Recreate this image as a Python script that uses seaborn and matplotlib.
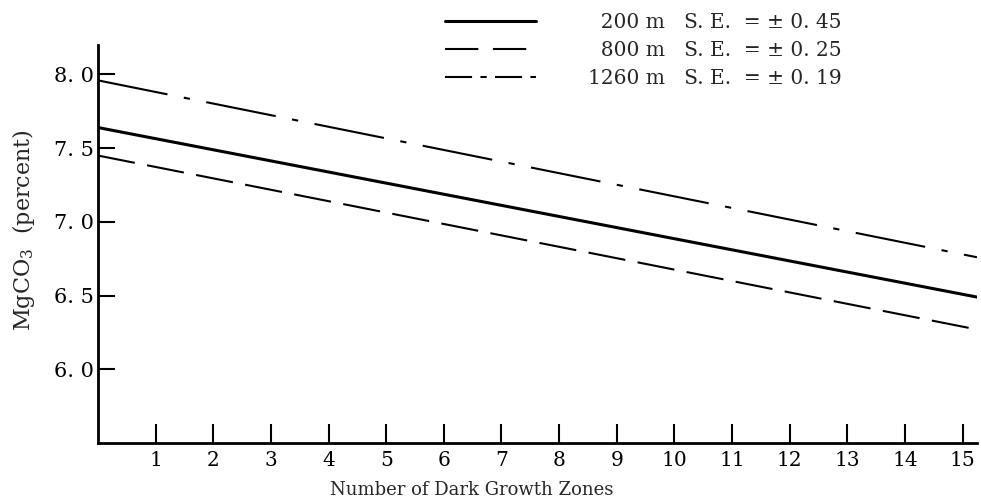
import numpy as np
import pandas as pd
import matplotlib
matplotlib.use("Agg")
import matplotlib.pyplot as plt
from matplotlib.lines import Line2D
import seaborn as sns

# ---- data ----
x_ends = [0.0, 15.25]                      # lines span the whole axis
mg_200 = [7.64, 6.49]
mg_800 = [7.45, 6.27]
mg_1260 = [7.96, 6.76]
depth_labels = ["200 m", "800 m", "1260 m"]
se_labels = ["S. E.  = \u00b1 0. 45", "S. E.  = \u00b1 0. 25", "S. E.  = \u00b1 0. 19"]
x_ticks = list(range(1, 16))
y_ticks = [6.0, 6.5, 7.0, 7.5, 8.0]
y_ticklabels = ["6. 0", "6. 5", "7. 0", "7. 5", "8. 0"]

sns.set_style("ticks")
FAM = ["DejaVu Serif", "DejaVu Sans"]
plt.rcParams["font.family"] = FAM
plt.rcParams["mathtext.fontset"] = "dejavuserif"

fig = plt.figure(figsize=(9.81, 5.03), dpi=100)
ax = fig.add_axes([98 / 981, 1 - 443 / 503, 879 / 981, 398 / 503])

series = [mg_200, mg_800, mg_1260]
styles = [
    dict(lw=2.2, linestyle="-"),
    dict(lw=1.5, linestyle=(0, (18, 6))),
    dict(lw=1.5, linestyle=(0, (34, 8, 3, 8))),
]
legend_styles = [
    dict(lw=2.2, linestyle="-"),
    dict(lw=1.5, linestyle=(0, (16, 7))),
    dict(lw=1.5, linestyle=(0, (13, 4, 3, 4))),
]
handles, labels = [], []
for vals, st, lst, dl, se in zip(series, styles, legend_styles, depth_labels, se_labels):
    df = pd.DataFrame({"x": x_ends, "y": vals})
    sns.lineplot(data=df, x="x", y="y", ax=ax, color="black", **st)
    pad = "  " if len(dl) < 6 else ""
    handles.append(Line2D([], [], color="black", **lst))
    labels.append(f"{pad}{dl}   {se}")

ax.set_xlim(0, 15.25)
ax.set_ylim(5.5, 8.2)
ax.set_xticks(x_ticks)
ax.set_xticklabels([str(t) for t in x_ticks], fontsize=14.5, family=FAM)
ax.set_yticks(y_ticks)
ax.set_yticklabels(y_ticklabels, fontsize=15, family=FAM)

sns.despine(ax=ax)
for s in ["left", "bottom"]:
    ax.spines[s].set_linewidth(2.0)
    ax.spines[s].set_color("black")
ax.tick_params(axis="x", direction="in", length=13.5, width=1.5, pad=6, colors="black")
ax.tick_params(axis="y", direction="in", length=12, width=1.5, pad=3, colors="black")

ax.set_xlabel("Number of Dark Growth Zones", fontsize=13, family=FAM)
ax.set_ylabel("MgCO$_3$  (percent)", fontsize=16, family=FAM)
ax.xaxis.set_label_coords(0.425, -0.095)
ax.yaxis.set_label_coords(-0.069, 0.535)

leg = ax.legend(handles=handles, labels=labels, loc="upper left",
                bbox_to_anchor=(445 / 981, 1 - 13 / 503),
                bbox_transform=fig.transFigure,
                frameon=False, fontsize=14.5, handlelength=4.5,
                handletextpad=2.6, labelspacing=0.45,
                borderpad=0, borderaxespad=0)

fig.savefig("out.png", dpi=100)
